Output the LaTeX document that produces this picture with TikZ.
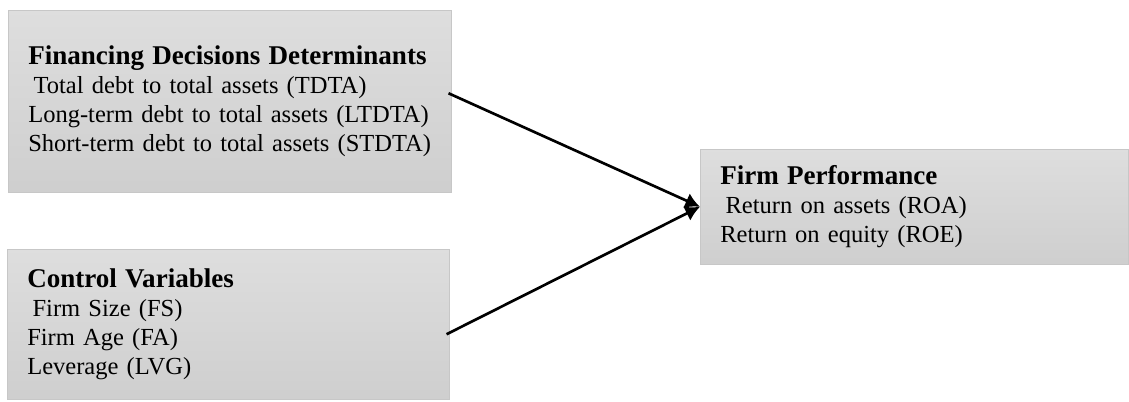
\documentclass[tikz,border=0pt]{standalone}
\usepackage{fontspec}
\setmainfont{Liberation Serif}
\usetikzlibrary{arrows.meta, positioning, calc}

\newcommand{\boxhead}[1]{\mbox{\fontsize{20.3}{21.5}\selectfont\bfseries #1}}

\begin{document}
\begin{tikzpicture}[x=0.75pt, y=-0.75pt,
  varbox/.style={rectangle, draw=black!22, top color=black!13, bottom color=black!19,
    inner xsep=15pt, anchor=north west, align=left,
    font=\fontsize{18.4}{21.6}\selectfont},
  link/.style={-{Latex[length=11pt,width=12pt]}, line width=2pt}]
\useasboundingbox (0,0) rectangle (1129,401);

% Independent variables
\node[varbox, text width=302.25pt, minimum height=136.5pt] (fin) at (8,10)
  {\boxhead{Financing Decisions Determinants}\\
   \hspace*{4pt}Total debt to total assets (TDTA)\\
   Long-term debt to total assets (LTDTA)\\
   Short-term debt to total assets (STDTA)};
\node[varbox, text width=301.5pt, minimum height=112.5pt] (ctrl) at (7,249)
  {\boxhead{Control Variables}\\
   \hspace*{4pt}Firm Size (FS)\\
   Firm Age (FA)\\
   Leverage (LVG)};

% Dependent variable
\node[varbox, text width=291pt, minimum height=86.25pt] (perf) at (700,149)
  {\boxhead{Firm Performance}\\
   \hspace*{4pt}Return on assets (ROA)\\
   Return on equity (ROE)};

% Links
\draw[link] ([shift={(-3,-8)}]fin.east) -- (perf.west);
\draw[link] ([shift={(-3,10)}]ctrl.east) -- (perf.west);
\end{tikzpicture}
\end{document}
